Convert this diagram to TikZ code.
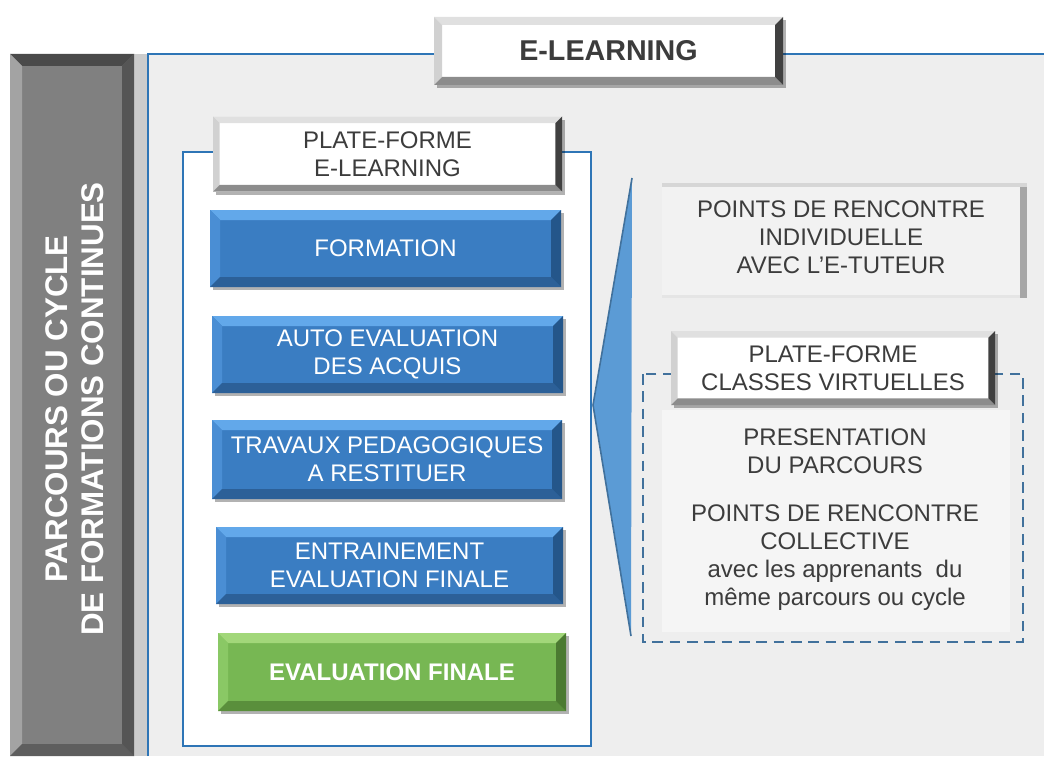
\documentclass[tikz,border=0pt]{standalone}
\usepackage{fontspec}
\setmainfont{Liberation Sans}
\usetikzlibrary{shadows}
\definecolor{frameblue}{HTML}{2E75B6}
\definecolor{bgpanel}{HTML}{EEEEEE}
\definecolor{txtdark}{HTML}{3C3C3C}
\definecolor{boxblue}{HTML}{3A7DC2}
\definecolor{blueT}{HTML}{62A8EA}
\definecolor{blueL}{HTML}{4A8ED4}
\definecolor{blueB}{HTML}{2C6098}
\definecolor{blueR}{HTML}{24568A}
\definecolor{boxgreen}{HTML}{77B753}
\definecolor{greenT}{HTML}{A2D77A}
\definecolor{greenL}{HTML}{8AC865}
\definecolor{greenB}{HTML}{5A8F3C}
\definecolor{greenR}{HTML}{4B7A31}
\definecolor{barT}{HTML}{4A4A4A}
\definecolor{barL}{HTML}{A3A3A3}
\definecolor{barB}{HTML}{5E5E5E}
\definecolor{barR}{HTML}{555555}
\definecolor{triblue}{HTML}{5B9BD5}
\definecolor{triedge}{HTML}{41719C}
\tikzset{
  bevel width/.store in=\bw, bevel width=7pt,
  bev/.style n args={5}{fill=#1, path picture={
    \coordinate (pa) at (path picture bounding box.north west);
    \coordinate (pb) at (path picture bounding box.north east);
    \coordinate (pc) at (path picture bounding box.south east);
    \coordinate (pd) at (path picture bounding box.south west);
    \fill[#2] (pa) -- (pb) -- ([shift={(-\bw,-\bw)}]pb) -- ([shift={(\bw,-\bw)}]pa) -- cycle;
    \fill[#3] (pa) -- (pd) -- ([shift={(\bw,\bw)}]pd) -- ([shift={(\bw,-\bw)}]pa) -- cycle;
    \fill[#4] (pd) -- (pc) -- ([shift={(-\bw,\bw)}]pc) -- ([shift={(\bw,\bw)}]pd) -- cycle;
    \fill[#5] (pb) -- (pc) -- ([shift={(-\bw,\bw)}]pc) -- ([shift={(-\bw,-\bw)}]pb) -- cycle;
  }},
  softshadow/.style={drop shadow={shadow xshift=2.5pt, shadow yshift=-2.5pt, opacity=0.3, fill=black}},
  normtext/.style={font=\fontsize{18pt}{21pt}\selectfont, align=center},
  bluebox/.style={softshadow, bev={boxblue}{blueT}{blueL}{blueB}{blueR}, bevel width=7.5pt,
    text=white, normtext, inner sep=0pt},
  greenbox/.style={softshadow, bev={boxgreen}{greenT}{greenL}{greenB}{greenR}, bevel width=7.5pt,
    text=white, normtext, font=\fontsize{18pt}{21pt}\selectfont\bfseries, inner sep=0pt},
  whitebox/.style={softshadow, bev={white}{black!12}{black!18}{black!45}{black!75}, bevel width=5pt,
    text=txtdark, normtext, inner sep=0pt},
  graybar/.style={bev={black!50}{barT}{barL}{barB}{barR}, bevel width=9pt, inner sep=0pt},
  plaintext/.style={text=txtdark, normtext, inner sep=0pt},
}
\begin{document}
\begin{tikzpicture}[x=0.75pt, y=-0.75pt]
\useasboundingbox (0,0) rectangle (1044,756);
% outer frame
\fill[bgpanel] (148,54) rectangle (1044,756);
\fill[black!20] (134,54) rectangle (148,756);
\draw[frameblue, line width=1.6pt] (148,756) -- (148,54) -- (1044,54);
% left bar
\node[graybar, minimum width=124*0.75pt, minimum height=702*0.75pt] (bar) at (72,405) {};
\node[rotate=90, text=white, font=\fontsize{23.5pt}{27pt}\selectfont\bfseries, align=center, inner sep=0pt] (bartxt) at (75,409) {PARCOURS OU CYCLE\\DE FORMATIONS CONTINUES};
% title
\node[whitebox, bevel width=6pt, font=\fontsize{21.5pt}{25pt}\selectfont\bfseries, minimum width=349*0.75pt, minimum height=68*0.75pt] (elearn) at (608.5,51) {E-LEARNING};
% inner panel
\draw[frameblue, line width=1.5pt, fill=white] (183,152) rectangle (591,746);
\node[whitebox, minimum width=349*0.75pt, minimum height=75*0.75pt] (pfel) at (387.5,154) {PLATE-FORME\\E-LEARNING};
\node[bluebox, minimum width=351*0.75pt, minimum height=77*0.75pt] (formation) at (385.5,248.5) {FORMATION};
\node[bluebox, minimum width=351*0.75pt, minimum height=77*0.75pt] (auto) at (387.5,354.5) {AUTO EVALUATION\\DES ACQUIS};
\node[bluebox, minimum width=350*0.75pt, minimum height=79*0.75pt] (travaux) at (387,459.5) {TRAVAUX PEDAGOGIQUES\\A RESTITUER};
\node[bluebox, minimum width=347*0.75pt, minimum height=77*0.75pt] (entrain) at (389.5,565.5) {ENTRAINEMENT\\EVALUATION FINALE};
\node[greenbox, minimum width=348*0.75pt, minimum height=78*0.75pt] (evalfin) at (392,672) {EVALUATION FINALE};
% bracket triangle
\fill[triblue] (632,178) -- (593,405) -- (631,636) -- cycle;
\draw[triedge, line width=1.2pt] (632,178) -- (593,405) -- (631,636);
% individual meeting box
\node[fill=black!5, minimum width=365*0.75pt, minimum height=115*0.75pt, inner sep=0pt,
  path picture={
    \fill[black!16] (path picture bounding box.north west) rectangle ([yshift=-3pt]path picture bounding box.north east);
    \fill[black!35] ([xshift=-5pt,yshift=-3pt]path picture bounding box.north east) rectangle (path picture bounding box.south east);
    \fill[black!10] ([yshift=2pt]path picture bounding box.south west) rectangle ([xshift=-5pt]path picture bounding box.south east);
  }] (indiv) at (844.5,240.5) {};
\node[plaintext] (indivtxt) at (841,237) {POINTS DE RENCONTRE\\INDIVIDUELLE\\AVEC L’E-TUTEUR};
% virtual classes
\draw[triedge, line width=1.5pt, dash pattern=on 8pt off 5pt] (643,374) rectangle (1023,642);
\fill[black!4] (662,410) rectangle (1010,632);
\node[whitebox, minimum width=324*0.75pt, minimum height=74*0.75pt] (classes) at (833,368) {PLATE-FORME\\CLASSES VIRTUELLES};
\node[plaintext] (pres) at (835,451) {PRESENTATION\\DU PARCOURS};
\node[plaintext] (collect) at (835,558) {POINTS DE RENCONTRE\\COLLECTIVE\\avec les apprenants\ \ du\\même parcours ou cycle};
\end{tikzpicture}
\end{document}
